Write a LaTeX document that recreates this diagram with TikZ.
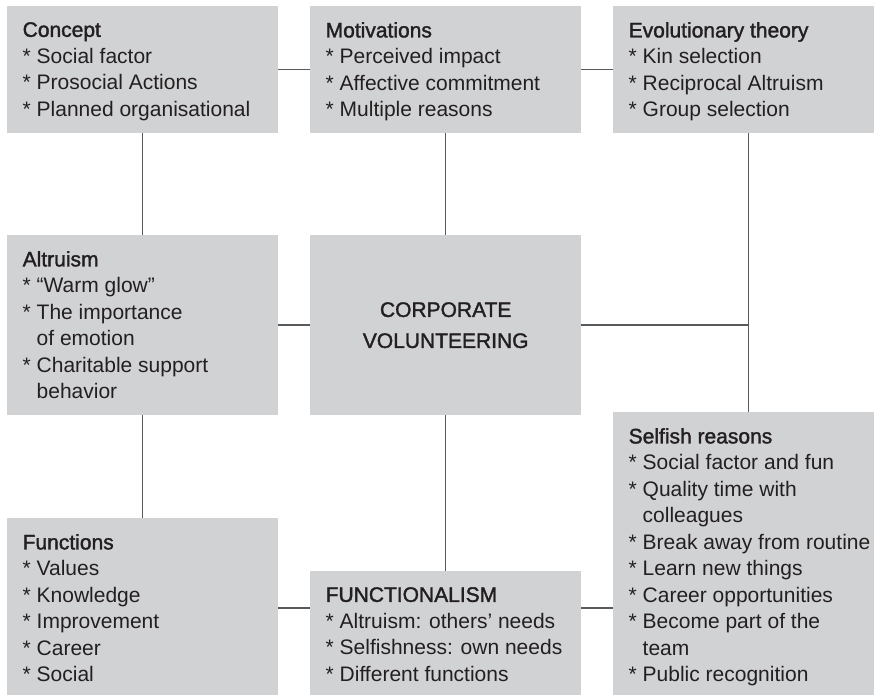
\documentclass[tikz,border=0pt]{standalone}
\usepackage{fontspec}
\setmainfont{Liberation Sans}
\newfontfamily\headfont[FakeBold=1.6]{Liberation Sans}
\usetikzlibrary{positioning}
\definecolor{panelgray}{RGB}{209,210,212}
\definecolor{linkgray}{RGB}{88,89,91}
\definecolor{inkgray}{RGB}{35,31,32}
\newcommand{\cont}{\hphantom{*\ }}

\begin{document}
\begin{tikzpicture}[
        panel/.style={rectangle, fill=panelgray, anchor=north west, inner sep=0pt, minimum width=271pt, minimum height=#1},
        points/.style={anchor=north west, align=left, inner sep=0pt, xshift=15.5pt, yshift=-16pt, text=inkgray, font=\fontsize{21}{26.5}\selectfont},
        hub/.style={align=center, text=inkgray, font=\headfont\fontsize{21}{31}\selectfont},
        link/.style={draw=linkgray, line width=1.5pt},
        x=1pt,y=-1pt,
    ]
    \useasboundingbox (0,0) rectangle (874,694);
    \node[panel=127pt, label={[points]north west:{{\headfont Concept}\\* Social factor\\* Prosocial Actions\\* Planned organisational}}] (concept) at (7,6) {};
    \node[panel=127pt, label={[points]north west:{{\headfont Motivations}\\* Perceived impact\\* Affective commitment\\* Multiple reasons}}] (motives) at (310,6) {};
    \node[panel=127pt, label={[points]north west:{{\headfont Evolutionary theory}\\* Kin selection\\* Reciprocal Altruism\\* Group selection}}] (evolution) at (613,6) {};
    \node[panel=180pt, label={[points]north west:{{\headfont Altruism}\\* “Warm glow”\\* The importance\\\cont of emotion\\* Charitable support\\\cont behavior}}] (altruism) at (7,235) {};
    \node[panel=180pt, hub] (centre) at (310,235) {CORPORATE\\VOLUNTEERING};
    \node[panel=300pt, label={[points]north west:{{\headfont Selfish reasons}\\* Social factor and fun\\* Quality time with\\\cont colleagues\\* Break away from routine\\* Learn new things\\* Career opportunities\\* Become part of the\\\cont team\\* Public recognition}}] (selfish) at (613,412) {};
    \node[panel=180pt, label={[points]north west:{{\headfont Functions}\\* Values\\* Knowledge\\* Improvement\\* Career\\* Social}}] (functions) at (7,518) {};
    \node[panel=180pt, label={[points]north west:{{\headfont FUNCTIONALISM}\\* Altruism: others’ needs\\* Selfishness: own needs\\* Different functions}}] (functionalism) at (310,571) {};
    \draw [link] (concept.east) -- (motives.west);
    \draw [link] (motives.east) -- (evolution.west);
    \draw [link] (concept.south) -- (altruism.north);
    \draw [link] (motives.south) -- (centre.north);
    \draw [link] (evolution.south) -- (selfish.north);
    \draw [link] (altruism.east) -- (centre.west);
    \draw [link] (centre.east) -- (centre.east -| evolution.south);
    \draw [link] (altruism.south) -- (functions.north);
    \draw [link] (centre.south) -- (functionalism.north);
    \draw [link] (functions.east) -- (functions.east -| functionalism.west);
    \draw [link] (functionalism.east |- functions.east) -- (selfish.west |- functions.east);
\end{tikzpicture}
\end{document}
